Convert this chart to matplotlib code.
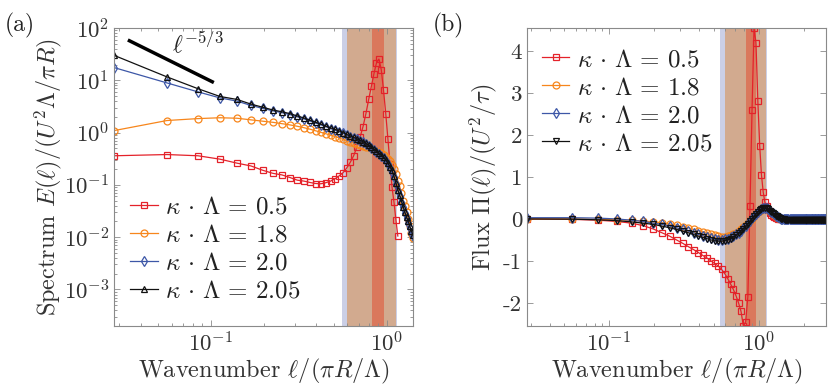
import numpy as np
import matplotlib
matplotlib.use("Agg")
import matplotlib.pyplot as plt
from matplotlib.ticker import FuncFormatter, LogLocator, NullFormatter

plt.rcParams['font.family'] = ['cmr10', 'DejaVu Serif']
plt.rcParams['mathtext.fontset'] = 'cm'
plt.rcParams['axes.unicode_minus'] = False
plt.rcParams['axes.formatter.use_mathtext'] = True

# wavenumber grid, l/(pi R/Lambda)
k_step = 0.02828
wavenumber = k_step * np.arange(1, 101)

labels = [r'$\kappa\,\cdot\,\Lambda\,=\,0.5$', r'$\kappa\,\cdot\,\Lambda\,=\,1.8$',
          r'$\kappa\,\cdot\,\Lambda\,=\,2.0$', r'$\kappa\,\cdot\,\Lambda\,=\,2.05$']
colors = ['#e4222a', '#f7861c', '#3d57a7', '#111111']

# (a) energy spectrum E(l)
spec_05 = [0.36, 0.38, 0.36, 0.31, 0.26, 0.23, 0.19, 0.166, 0.155, 0.138,
           0.123, 0.118, 0.111, 0.106, 0.105, 0.11, 0.118, 0.13, 0.148, 0.17,
           0.21, 0.27, 0.36, 0.53, 0.81, 1.3, 2.3, 4.3, 7.7, 13.4,
           21.5, 25.5, 16.0, 6.5, 2.3, 0.76, 0.25, 0.09, 0.046, 0.021, 0.0105]
spec_18 = [1.09, 1.7, 1.85, 1.92, 1.88, 1.75, 1.65, 1.57, 1.48, 1.4,
           1.32, 1.24, 1.16, 1.08, 1.01, 0.95, 0.89, 0.84, 0.79, 0.74,
           0.7, 0.67, 0.64, 0.61, 0.58, 0.56, 0.54, 0.52, 0.5, 0.47,
           0.45, 0.43, 0.40, 0.37, 0.34, 0.31, 0.28, 0.24, 0.2, 0.16,
           0.12, 0.095, 0.07, 0.05, 0.04, 0.03, 0.022, 0.016, 0.012, 0.0098]
spec_20 = [17.5, 8.9, 6.0, 4.6, 4.0, 3.3, 2.9, 2.6, 2.4, 2.2,
           2.0, 1.83, 1.66, 1.52, 1.4, 1.29, 1.19, 1.11, 1.04, 0.97,
           0.9, 0.84, 0.79, 0.74, 0.7, 0.66, 0.61, 0.56, 0.51, 0.47,
           0.43, 0.39, 0.36, 0.33, 0.29, 0.25, 0.21, 0.18, 0.14, 0.105,
           0.078, 0.062, 0.047, 0.037, 0.029, 0.023, 0.019, 0.015, 0.012, 0.0105]
spec_205 = [30.0, 11.6, 6.9, 4.9, 4.3, 3.5, 3.05, 2.7, 2.5, 2.3,
            2.08, 1.9, 1.72, 1.57, 1.45, 1.33, 1.23, 1.15, 1.08, 1.0,
            0.92, 0.86, 0.81, 0.76, 0.71, 0.67, 0.62, 0.57, 0.52, 0.48,
            0.44, 0.40, 0.37, 0.34, 0.30, 0.26, 0.22, 0.19, 0.145, 0.11,
            0.08, 0.064, 0.049, 0.038, 0.03, 0.024, 0.02, 0.016, 0.013, 0.011]

# (b) energy flux Pi(l)
flux_05 = [0.0, -0.01, -0.03, -0.06, -0.1, -0.16, -0.24, -0.33, -0.41, -0.5,
           -0.58, -0.66, -0.73, -0.8, -0.87, -0.93, -1.0, -1.06, -1.12, -1.2,
           -1.3, -1.42, -1.55, -1.68, -1.83, -2.0, -2.2, -2.55, -2.45, -1.85,
           0.3, 2.6, 4.55, 4.2, 2.8, 1.75, 1.05, 0.64, 0.4, 0.3,
           0.22, 0.15, 0.1, 0.07, 0.05, 0.03, 0.02, 0.01, 0.0, 0.0,
           0.0, 0.0, 0.0, 0.0, 0.0, 0.0, 0.0, 0.0, 0.0, 0.0,
           0.0, 0.0, 0.0, 0.0, 0.0, 0.0, 0.0, 0.0, 0.0, 0.0,
           0.0, 0.0, 0.0, 0.0, 0.0, 0.0, 0.0, 0.0, 0.0, 0.0,
           0.0, 0.0, 0.0, 0.0, 0.0, 0.0, 0.0, 0.0, 0.0, 0.0,
           0.0, 0.0, 0.0, 0.0, 0.0, 0.0, 0.0, 0.0, 0.0, 0.0]
flux_18 = [0.0, 0.0, -0.01, -0.02, -0.03, -0.05, -0.07, -0.09, -0.12, -0.15,
           -0.18, -0.21, -0.25, -0.28, -0.31, -0.34, -0.37, -0.39, -0.41, -0.42,
           -0.42, -0.41, -0.39, -0.36, -0.33, -0.29, -0.25, -0.2, -0.15, -0.1,
           -0.05, 0.0, 0.06, 0.11, 0.16, 0.2, 0.23, 0.25, 0.25, 0.24,
           0.22, 0.19, 0.16, 0.13, 0.1, 0.07, 0.05, 0.03, 0.02, 0.01,
           0.0, 0.0, 0.0, 0.0, 0.0, 0.0, 0.0, 0.0, 0.0, 0.0,
           0.0, 0.0, 0.0, 0.0, 0.0, 0.0, 0.0, 0.0, 0.0, 0.0,
           0.0, 0.0, 0.0, 0.0, 0.0, 0.0, 0.0, 0.0, 0.0, 0.0,
           0.0, 0.0, 0.0, 0.0, 0.0, 0.0, 0.0, 0.0, 0.0, 0.0,
           0.0, 0.0, 0.0, 0.0, 0.0, 0.0, 0.0, 0.0, 0.0, 0.0]
flux_20 = [0.03, 0.03, 0.02, 0.0, -0.03, -0.06, -0.1, -0.13, -0.17, -0.21,
           -0.25, -0.29, -0.33, -0.37, -0.4, -0.43, -0.46, -0.48, -0.49, -0.49,
           -0.48, -0.47, -0.44, -0.41, -0.37, -0.33, -0.28, -0.22, -0.16, -0.1,
           -0.04, 0.02, 0.07, 0.12, 0.17, 0.21, 0.24, 0.26, 0.26, 0.25,
           0.23, 0.2, 0.17, 0.14, 0.11, 0.08, 0.06, 0.04, 0.02, 0.01,
           0.0, 0.0, 0.0, 0.0, 0.0, 0.0, 0.0, 0.0, 0.0, 0.0,
           0.0, 0.0, 0.0, 0.0, 0.0, 0.0, 0.0, 0.0, 0.0, 0.0,
           0.0, 0.0, 0.0, 0.0, 0.0, 0.0, 0.0, 0.0, 0.0, 0.0,
           0.0, 0.0, 0.0, 0.0, 0.0, 0.0, 0.0, 0.0, 0.0, 0.0,
           0.0, 0.0, 0.0, 0.0, 0.0, 0.0, 0.0, 0.0, 0.0, 0.0]
flux_205 = [0.0, -0.005, -0.02, -0.04, -0.07, -0.1, -0.13, -0.17, -0.21, -0.25,
            -0.29, -0.33, -0.37, -0.41, -0.44, -0.47, -0.5, -0.52, -0.53, -0.53,
            -0.52, -0.5, -0.47, -0.43, -0.39, -0.34, -0.29, -0.23, -0.17, -0.11,
            -0.05, 0.01, 0.07, 0.12, 0.17, 0.21, 0.24, 0.26, 0.26, 0.25,
            0.23, 0.2, 0.17, 0.14, 0.11, 0.08, 0.06, 0.04, 0.02, 0.01,
            0.0, -0.01, -0.02, -0.02, -0.02, -0.02, -0.02, -0.02, -0.02, -0.02,
            -0.02, -0.02, -0.02, -0.02, -0.02, -0.02, -0.02, -0.02, -0.02, -0.02,
            -0.02, -0.02, -0.02, -0.02, -0.02, -0.02, -0.02, -0.02, -0.02, -0.02,
            -0.02, -0.02, -0.02, -0.02, -0.02, -0.02, -0.02, -0.02, -0.02, -0.02,
            -0.02, -0.02, -0.02, -0.02, -0.02, -0.02, -0.02, -0.02, -0.02, -0.02]

# shaded wavenumber ranges (lo, hi) for each coupling
bands = [(0.555, 1.14), (0.6, 1.125), (0.826, 0.966)]
band_colors = ['#8c96c8', '#d98c48', '#e0573a']
band_alpha = [0.45, 0.55, 0.6]

slope_x = [0.0346, 0.1023]
slope_y0 = 57.0

tick_col = '#333333'
spine_col = '#8a8a8a'
text_col = '#333333'

fig = plt.figure(figsize=(8.31, 3.92), dpi=100)
axa = fig.add_axes([0.1372, 0.1684, 0.3598, 0.7602])
axb = fig.add_axes([0.6342, 0.1684, 0.3598, 0.7602])

markers_a = ['s', 'o', 'd', '^']
markers_b = ['s', 'o', 'd', 'v']
spectra = [spec_05, spec_18, spec_20, spec_205]
fluxes = [flux_05, flux_18, flux_20, flux_205]

for i in range(4):
    s = spectra[i]
    axa.plot(wavenumber[:len(s)], s, marker=markers_a[i], color=colors[i], lw=0.9,
             ms=5, mfc='none', mew=0.9, label=labels[i], zorder=2 + i * 0.1)
    f = fluxes[i]
    axb.plot(wavenumber[:len(f)], f, marker=markers_b[i], color=colors[i], lw=0.9,
             ms=5, mfc='none', mew=0.9, label=labels[i], zorder=2 + i * 0.1)

for ax in (axa, axb):
    for (lo, hi), c, a in zip(bands, band_colors, band_alpha):
        ax.axvspan(lo, hi, color=c, alpha=a, lw=0, zorder=1)

# -5/3 reference line
xs = np.array(slope_x)
axa.plot(xs, slope_y0 * (xs / xs[0]) ** (-5.0 / 3.0), color='black', lw=2.5, zorder=4)
axa.text(0.0605, 48, r'$\ell^{-5/3}$', fontsize=17, va='center', ha='left', color='#222222')

axa.set_xscale('log')
axa.set_yscale('log')
axa.set_xlim(k_step, 50 * k_step)
axa.set_ylim(2e-4, 1e2)
axa.set_yticks([1e-3, 1e-2, 1e-1, 1e0, 1e1, 1e2])
axa.yaxis.set_minor_locator(LogLocator(base=10, subs=np.arange(2, 10)))
axa.yaxis.set_minor_formatter(NullFormatter())
axa.yaxis.set_major_formatter(FuncFormatter(lambda v, p: r'$10^{%d}$' % round(np.log10(v))))

axb.set_xscale('log')
axb.set_xlim(k_step, 100 * k_step)
axb.set_ylim(-2.55, 4.55)
axb.set_yticks([-2, -1, 0, 1, 2, 3, 4])
axb.yaxis.set_major_formatter(FuncFormatter(lambda v, p: '%d' % v))

for ax in (axa, axb):
    ax.set_xticks([0.1, 1.0])
    ax.xaxis.set_minor_locator(LogLocator(base=10, subs=np.arange(2, 10)))
    ax.xaxis.set_minor_formatter(NullFormatter())
    ax.xaxis.set_major_formatter(FuncFormatter(lambda v, p: r'$10^{%d}$' % round(np.log10(v))))
    ax.tick_params(which='both', direction='in', top=True, right=True,
                   color=spine_col, labelcolor=tick_col, labelsize=16.5, width=0.6)
    ax.tick_params(which='major', length=4)
    ax.tick_params(which='minor', length=2)
    for sp in ax.spines.values():
        sp.set_color(spine_col)
        sp.set_linewidth(0.8)
    ax.set_xlabel(r'Wavenumber $\ell/(\pi R/\Lambda)$', fontsize=17.5, color=text_col, labelpad=1)

axa.set_ylabel(r'Spectrum $E(\ell)/(U^2\Lambda/\pi R)$', fontsize=17.5, color=text_col, labelpad=0)
axb.set_ylabel(r'Flux $\Pi(\ell)/(U^2/\tau)$', fontsize=17.5, color=text_col, labelpad=3)

leg_kw = dict(frameon=False, fontsize=18, handlelength=1.1, handletextpad=0.3,
              labelspacing=0.22, borderpad=0, borderaxespad=0, labelcolor='#222222')
axa.legend(loc='center left', bbox_to_anchor=(0.0535, 0.257), **leg_kw)
axb.legend(loc='center left', bbox_to_anchor=(0.05, 0.752), **leg_kw)

fig.text(0.006, 0.936, '(a)', fontsize=17, va='center', ha='left', color='#222222')
fig.text(0.521, 0.936, '(b)', fontsize=17, va='center', ha='left', color='#222222')

fig.savefig('out.png', dpi=100)
